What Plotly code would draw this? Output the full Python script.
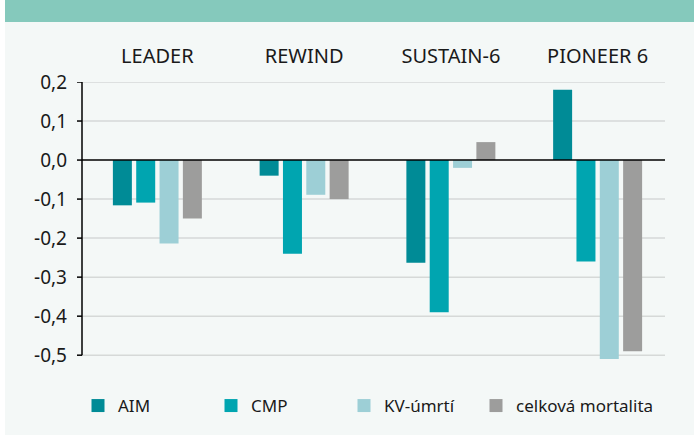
import plotly.graph_objects as go

categories = ["LEADER", "REWIND", "SUSTAIN-6", "PIONEER 6"]
series_names = ["AIM", "CMP", "KV-úmrtí", "celková mortalita"]
aim = [-0.116, -0.04, -0.263, 0.18]
cmp_ = [-0.109, -0.24, -0.39, -0.26]
kv = [-0.214, -0.089, -0.02, -0.51]
celk = [-0.150, -0.10, 0.046, -0.49]
tick_vals = [0.2, 0.1, 0.0, -0.1, -0.2, -0.3, -0.4, -0.5]
tick_text = ["0,2", "0,1", "0,0", "-0,1", "-0,2", "-0,3", "-0,4", "-0,5"]
colors = ["#008b96", "#00a5b0", "#9dcfd6", "#9d9d9c"]

W, H = 694, 435
L, R, T, B = 84, 23, 82, 72
pw, ph = W - L - R, H - T - B
ymin, ymax = -0.52, 0.2
AX_X = 82      # pixel x of the drawn y-axis line
GRID_END = 665  # pixel x where grid lines end

def px_x(p):
    return (p - L) / pw

def px_y(p):
    return (H - B - p) / ph

font = "Noto Sans"
fig = go.Figure()
for name, vals, c in zip(series_names, [aim, cmp_, kv, celk], colors):
    fig.add_trace(go.Bar(x=categories, y=vals, name=name, marker_color=c,
                         marker_line_width=0, showlegend=False))

# legend entries, one small legend per series
legend_centers = [98, 231, 364, 496]
legend_cfg = {}
for i, (name, c, cx) in enumerate(zip(series_names, colors, legend_centers)):
    key = "legend" if i == 0 else f"legend{i + 1}"
    fig.add_trace(go.Scatter(x=[None], y=[None], mode="markers", name=name,
                             legend=key,
                             marker=dict(symbol="square", size=13, color=c)))
    legend_cfg[key] = dict(orientation="h", xref="container", yref="container",
                           x=(cx - 20) / W, y=1 - 406 / H,
                           xanchor="left", yanchor="middle",
                           font=dict(size=17, family=font, color="#1a1a1a"),
                           bgcolor="rgba(0,0,0,0)", itemclick=False,
                           itemdoubleclick=False)

fig.update_layout(
    width=W, height=H,
    margin=dict(l=L, r=R, t=T, b=B),
    paper_bgcolor="#f4f8f7", plot_bgcolor="rgba(0,0,0,0)",
    barmode="group", bargap=0.364, bargroupgap=0.186,
    font=dict(family=font, size=16, color="#1a1a1a"),
    showlegend=True,
    xaxis=dict(side="top", showline=False, showgrid=False, ticks="",
               ticklabelstandoff=14, tickfont=dict(size=20, family=font),
               fixedrange=True),
    yaxis=dict(range=[ymin, ymax], tickvals=tick_vals, ticktext=tick_text,
               showgrid=False, zeroline=False, showline=False, ticks="",
               ticklabelstandoff=16,
               tickfont=dict(size=19, family=font), fixedrange=True),
    **legend_cfg,
)

shapes = [
    dict(type="rect", xref="paper", yref="paper", x0=px_x(5), x1=px_x(W + 2),
         y0=px_y(22), y1=px_y(-2), fillcolor="#85c9bc", line_width=0, layer="below"),
    dict(type="rect", xref="paper", yref="paper", x0=px_x(-2), x1=px_x(5),
         y0=px_y(H + 2), y1=px_y(-2), fillcolor="#ffffff", line_width=0, layer="below"),
]
# grid lines (below bars) and ticks
for v in tick_vals:
    if v != 0:
        shapes.append(dict(type="line", xref="paper", yref="y",
                           x0=px_x(AX_X), x1=px_x(GRID_END), y0=v, y1=v,
                           line=dict(color="#d6d9d8", width=1.5), layer="below"))
    shapes.append(dict(type="line", xref="paper", yref="y",
                       x0=px_x(AX_X - 5), x1=px_x(AX_X), y0=v, y1=v,
                       line=dict(color="#000000", width=1.5)))
# zero line and y-axis line (above bars)
shapes.append(dict(type="line", xref="paper", yref="y", x0=px_x(AX_X),
                   x1=px_x(GRID_END), y0=0, y1=0,
                   line=dict(color="#000000", width=1.5)))
shapes.append(dict(type="line", xref="paper", yref="y", x0=px_x(AX_X),
                   x1=px_x(AX_X), y0=tick_vals[-1], y1=tick_vals[0],
                   line=dict(color="#000000", width=1.5)))
fig.update_layout(shapes=shapes)

fig.write_html("out.html", config={"displayModeBar": False},
               post_script="document.body.style.margin='0';document.body.style.overflow='hidden';")
